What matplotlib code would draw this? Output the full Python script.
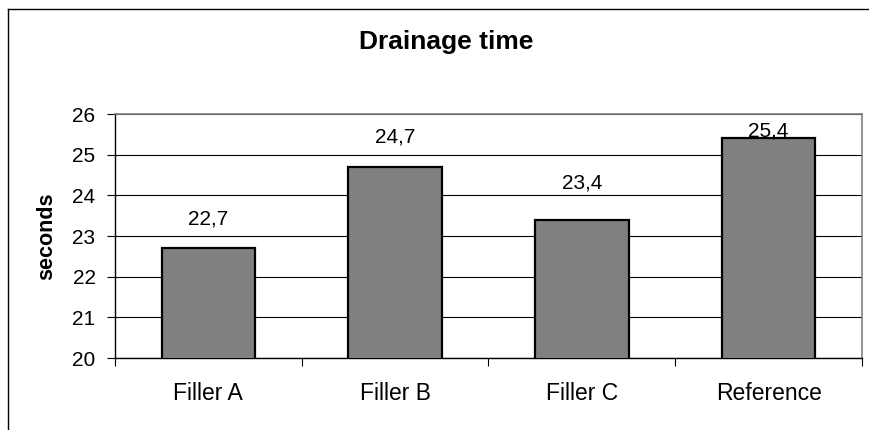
import matplotlib
matplotlib.use("Agg")
import matplotlib.pyplot as plt
from matplotlib.lines import Line2D

plt.rcParams['font.family'] = ['Liberation Sans', 'DejaVu Sans']

categories = ["Filler A", "Filler B", "Filler C", "Reference"]
values = [22.7, 24.7, 23.4, 25.4]
value_labels = ["22,7", "24,7", "23,4", "25,4"]
y_ticks = [20, 21, 22, 23, 24, 25, 26]

fig = plt.figure(figsize=(8.7, 4.3), dpi=100)
ax = fig.add_axes([115 / 870, 1 - 358 / 430, (862 - 115) / 870, (358 - 114) / 430])

x = list(range(len(categories)))
ax.bar(x, values, width=0.5, color="#808080", edgecolor="black", linewidth=1.6, zorder=3)

ax.set_xlim(-0.5, len(categories) - 0.5)
ax.set_ylim(y_ticks[0], y_ticks[-1])
ax.set_yticks(y_ticks)
ax.set_yticklabels([str(t) for t in y_ticks], fontsize=15)
ax.yaxis.grid(True, color="black", linewidth=0.8, zorder=0)
ax.set_axisbelow(True)

ax.set_xticks(x)
ax.set_xticklabels(categories, fontsize=16.5)
ax.tick_params(axis="x", which="major", length=0, pad=17.5)
ax.set_xticks([i - 0.5 for i in range(len(categories) + 1)], minor=True)
ax.tick_params(axis="x", which="minor", length=6, width=0.8, direction="out", color="black")
ax.tick_params(axis="y", length=6, width=0.8, direction="out", pad=8)

for side in ("top", "right"):
    ax.spines[side].set_color("#808080")
    ax.spines[side].set_linewidth(1.2)
for side in ("left", "bottom"):
    ax.spines[side].set_color("black")
    ax.spines[side].set_linewidth(1.0)

offsets = [29, 30, 37, 7]
for xi, v, lab, off in zip(x, values, value_labels, offsets):
    ax.annotate(lab, (xi, v), xytext=(0, off), textcoords="offset pixels",
                ha="center", va="center", fontsize=15, zorder=4,
                annotation_clip=False)

ax.set_ylabel("seconds", fontsize=15.5, fontweight="bold")
ax.yaxis.set_label_coords(-0.078, 0.5)

fig.text(446 / 870, 1 - 42 / 430, "Drainage time", ha="center", va="center",
         fontsize=19, fontweight="bold")

# chart-area frame
fig.add_artist(Line2D([8 / 870, 8 / 870], [0, 1 - 9 / 430], transform=fig.transFigure,
                      color="black", linewidth=1.0))
fig.add_artist(Line2D([8 / 870, 1], [1 - 9 / 430, 1 - 9 / 430], transform=fig.transFigure,
                      color="black", linewidth=1.0))

fig.savefig("out.png", dpi=100)
